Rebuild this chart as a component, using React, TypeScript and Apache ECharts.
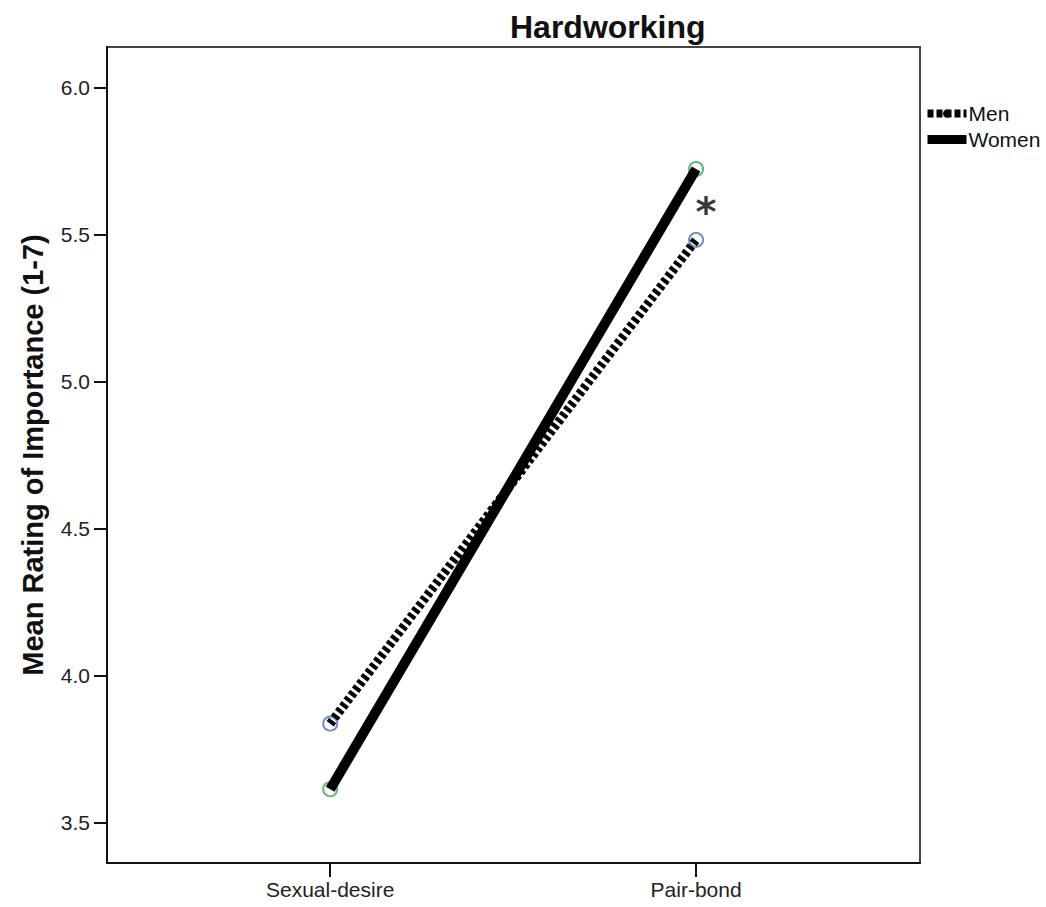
import React, { useEffect, useRef } from 'react';
import * as echarts from 'echarts';

const chartTitle = 'Hardworking';
const yAxisName = 'Mean Rating of Importance (1-7)';
const categories = ['Sexual-desire', 'Pair-bond'];
const categoryPositions = [1, 2];
const menValues = [3.836, 5.482];
const womenValues = [3.613, 5.723];
const yTicks = [3.5, 4.0, 4.5, 5.0, 5.5, 6.0];
const seriesNames = ['Men', 'Women'];
const asteriskPoint = [2.027, 5.575];
const asteriskText = '*';

export default function App() {
  const ref = useRef<HTMLDivElement>(null);
  useEffect(() => {
    document.body.style.margin = '0';
    const chart = echarts.init(ref.current!, null, { renderer: 'svg' });
    const font = 'Arial, "Liberation Sans", sans-serif';
    const menData = categoryPositions.map((x, i) => [x, menValues[i]]);
    const womenData = categoryPositions.map((x, i) => [x, womenValues[i]]);
    chart.setOption({
      animation: false,
      backgroundColor: '#fff',
      textStyle: { fontFamily: font },
      title: {
        text: chartTitle,
        left: 505,
        top: 6,
        textStyle: { fontSize: 32, fontWeight: 'bold', color: '#111', fontFamily: font },
      },
      grid: {
        left: 107,
        right: 126,
        top: 47,
        bottom: 44,
        show: true,
        borderColor: '#444',
        borderWidth: 2,
        backgroundColor: '#fff',
      },
      legend: {
        data: [
          { name: seriesNames[0], lineStyle: { type: [6, 3], width: 8 } },
          { name: seriesNames[1], lineStyle: { width: 9 } },
        ],
        orient: 'vertical',
        left: 918,
        top: 98,
        itemWidth: 39,
        itemHeight: 10,
        itemGap: 5,
        selectedMode: false,
        textStyle: { fontSize: 21, color: '#111', fontFamily: font, padding: [0, 0, 0, -3] },
      },
      xAxis: {
        type: 'value',
        min: 0.39,
        max: 2.612,
        splitLine: { show: false },
        axisLine: { show: true, lineStyle: { color: '#111', width: 2 } },
        axisTick: { show: true, customValues: categoryPositions, length: 14, lineStyle: { color: '#111', width: 2 } },
        axisLabel: {
          customValues: categoryPositions,
          formatter: (v: number) => categories[categoryPositions.indexOf(v)] ?? '',
          fontSize: 21,
          color: '#222',
          margin: 16,
          fontFamily: font,
        },
      },
      yAxis: {
        type: 'value',
        min: 3.362,
        max: 6.138,
        name: yAxisName,
        nameLocation: 'middle',
        nameGap: 60,
        nameTextStyle: { fontSize: 29, fontWeight: 'bold', color: '#111', fontFamily: font },
        splitLine: { show: false },
        axisLine: { show: true, lineStyle: { color: '#111', width: 2 } },
        axisTick: { show: true, customValues: yTicks, length: 13, lineStyle: { color: '#111', width: 2 } },
        axisLabel: {
          customValues: yTicks,
          formatter: (v: number) => v.toFixed(1),
          fontSize: 21,
          color: '#222',
          margin: 17,
          fontFamily: font,
        },
      },
      series: [
        {
          type: 'scatter',
          name: 'Men markers',
          data: menData,
          symbol: 'circle',
          symbolSize: 14,
          z: 1,
          silent: true,
          itemStyle: { color: 'rgba(255,255,255,0)', borderColor: '#4a6bc4', borderWidth: 2 },
        },
        {
          type: 'scatter',
          name: 'Women markers',
          data: womenData,
          symbol: 'circle',
          symbolSize: 14,
          z: 1,
          silent: true,
          itemStyle: { color: 'rgba(255,255,255,0)', borderColor: '#38a848', borderWidth: 2 },
        },
        {
          type: 'line',
          name: seriesNames[0],
          data: menData,
          symbol: 'none',
          z: 2,
          lineStyle: { color: '#000', width: 9, type: [4, 3], cap: 'butt' },
          itemStyle: { color: '#000' },
        },
        {
          type: 'line',
          name: seriesNames[1],
          data: womenData,
          symbol: 'none',
          z: 3,
          lineStyle: { color: '#000', width: 10, type: 'solid', cap: 'butt' },
          itemStyle: { color: '#000' },
        },
        {
          type: 'scatter',
          name: 'Significance',
          data: [asteriskPoint],
          symbolSize: 1,
          z: 4,
          silent: true,
          itemStyle: { color: 'rgba(0,0,0,0)' },
          label: {
            show: true,
            position: 'inside',
            formatter: () => asteriskText,
            fontSize: 40,
            fontWeight: 'bold',
            color: '#000',
            fontFamily: '"DejaVu Sans", sans-serif',
          },
        },
      ],
    });
    return () => chart.dispose();
  }, []);
  return <div ref={ref} style={{ width: 1046, height: 907 }} />;
}
